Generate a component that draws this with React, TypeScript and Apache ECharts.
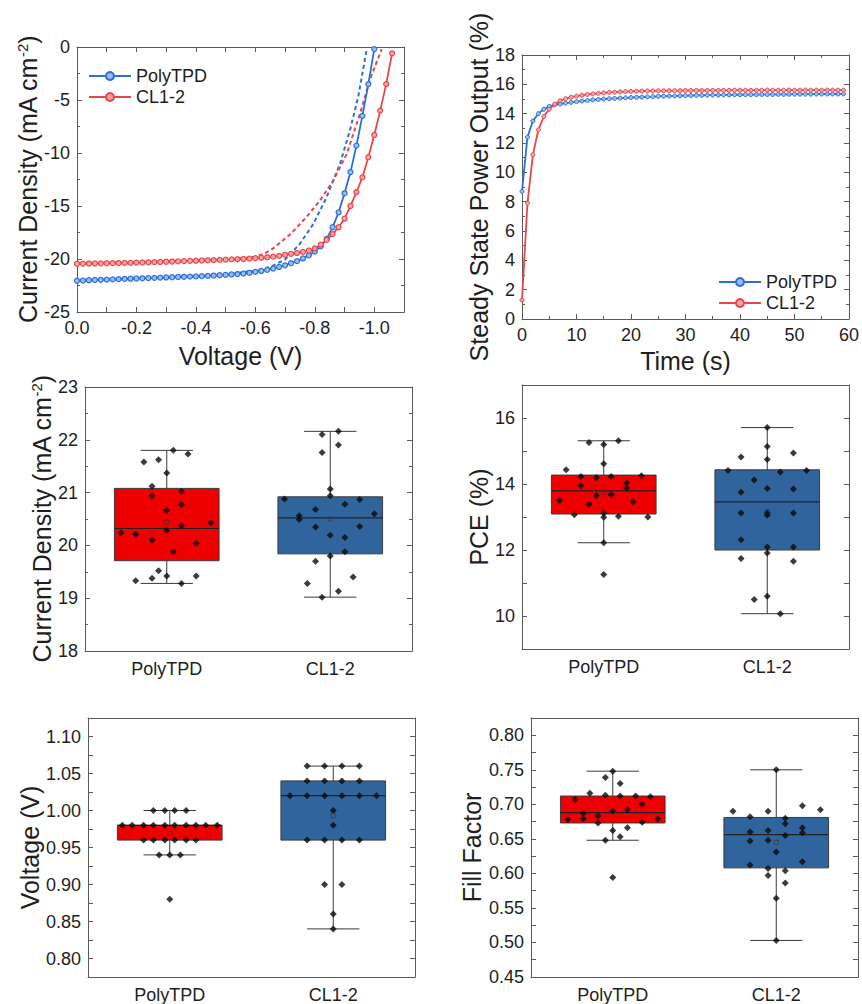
import React, { useEffect, useRef } from 'react';
import * as echarts from 'echarts';

// ---------------- Data ----------------
const groups = ['PolyTPD', 'CL1-2'];

// J-V curves (forward scan with markers)
const jvVoltage = [0, -0.02, -0.04, -0.06, -0.08, -0.1, -0.12, -0.14, -0.16, -0.18, -0.2, -0.22, -0.24, -0.26, -0.28, -0.3, -0.32, -0.34, -0.36, -0.38, -0.4, -0.42, -0.44, -0.46, -0.48, -0.5, -0.52, -0.54, -0.56, -0.58, -0.6, -0.62, -0.64, -0.66, -0.68, -0.7, -0.72, -0.74, -0.76, -0.78, -0.8, -0.82, -0.84, -0.86, -0.88, -0.9, -0.92, -0.94, -0.96, -0.98, -1.0, -1.02, -1.04, -1.06];
const jvPolyForward = [
  -22.05, -22.03, -22.0, -21.98, -21.96, -21.94, -21.92, -21.9, -21.88, -21.86,
  -21.84, -21.82, -21.8, -21.78, -21.76, -21.74, -21.72, -21.7, -21.68, -21.66,
  -21.64, -21.62, -21.59, -21.56, -21.53, -21.5, -21.46, -21.42, -21.37, -21.3,
  -21.22, -21.13, -21.02, -20.9, -20.75, -20.6, -20.4, -20.2, -19.95, -19.65,
  -19.3, -18.8, -18.1, -17.0, -15.6, -13.8, -11.8, -9.3, -6.5, -3.5,
  -0.2,
];
const jvCl12Forward = [
  -20.45, -20.44, -20.43, -20.42, -20.41, -20.4, -20.39, -20.38, -20.37, -20.36,
  -20.34, -20.33, -20.31, -20.3, -20.28, -20.26, -20.24, -20.22, -20.2, -20.18,
  -20.16, -20.14, -20.12, -20.1, -20.08, -20.06, -20.04, -20.02, -20.0, -19.97,
  -19.92, -19.88, -19.84, -19.78, -19.7, -19.6, -19.52, -19.43, -19.33, -19.2,
  -19.0, -18.65, -18.2, -17.65, -17.0, -16.2, -15.0, -13.7, -12.3, -10.4,
  -8.3, -6.0, -3.5, -0.6,
];
// J-V curves (reverse scan, dashed)
const jvPolyReverseV = [0, -0.1, -0.2, -0.3, -0.4, -0.5, -0.6, -0.65, -0.7, -0.75, -0.795, -0.84, -0.885, -0.918, -0.946, -0.974];
const jvPolyReverseJ = [-22.05, -21.94, -21.84, -21.74, -21.64, -21.48, -21.1, -20.75, -20.05, -18.55, -16.7, -14.15, -11.0, -7.86, -4.7, -0.3];
const jvCl12ReverseV = [0, -0.2, -0.4, -0.5, -0.56, -0.6, -0.63, -0.66, -0.72, -0.773, -0.817, -0.862, -0.907, -0.952, -0.985, -1.025];
const jvCl12ReverseJ = [-20.45, -20.32, -20.14, -20.02, -19.92, -19.78, -19.5, -19.0, -17.6, -16.0, -14.5, -12.6, -10.1, -6.3, -3.1, -0.2];

// Steady state power output
const spoTime = [0, 1, 2, 3, 4, 5, 6, 7, 8, 9, 10, 11, 12, 13, 14, 15, 16, 17, 18, 19, 20, 21, 22, 23, 24, 25, 26, 27, 28, 29, 30, 31, 32, 33, 34, 35, 36, 37, 38, 39, 40, 41, 42, 43, 44, 45, 46, 47, 48, 49, 50, 51, 52, 53, 54, 55, 56, 57, 58, 59];
const spoPoly = [
  8.7, 12.4, 13.5, 14.0, 14.3, 14.5, 14.6, 14.66, 14.72, 14.77,
  14.82, 14.86, 14.9, 14.94, 14.97, 15.0, 15.02, 15.04, 15.06, 15.08,
  15.1, 15.12, 15.13, 15.15, 15.16, 15.18, 15.19, 15.2, 15.21, 15.22,
  15.23, 15.24, 15.25, 15.25, 15.26, 15.27, 15.27, 15.28, 15.28, 15.29,
  15.29, 15.3, 15.3, 15.3, 15.31, 15.31, 15.31, 15.32, 15.32, 15.32,
  15.33, 15.33, 15.33, 15.33, 15.34, 15.34, 15.34, 15.34, 15.34, 15.35,
];
const spoCl12 = [
  1.3, 7.9, 11.2, 12.9, 13.8, 14.3, 14.65, 14.88, 15.02, 15.12,
  15.2, 15.26, 15.31, 15.35, 15.39, 15.42, 15.45, 15.47, 15.49, 15.51,
  15.52, 15.53, 15.54, 15.55, 15.55, 15.56, 15.56, 15.57, 15.57, 15.57,
  15.58, 15.58, 15.58, 15.58, 15.59, 15.59, 15.59, 15.59, 15.59, 15.6,
  15.6, 15.6, 15.59, 15.6, 15.6, 15.61, 15.6, 15.6, 15.6, 15.61,
  15.6, 15.6, 15.61, 15.6, 15.6, 15.6, 15.61, 15.6, 15.6, 15.6,
];

// Box statistics: [lower whisker, Q1, median, Q3, upper whisker]
const jscBox = [[19.28, 19.71, 20.32, 21.08, 21.8], [19.02, 19.84, 20.52, 20.92, 22.16]];
const pceBox = [[12.22, 13.09, 13.79, 14.27, 15.31], [10.07, 12.0, 13.46, 14.43, 15.71]];
const vocBox = [[0.94, 0.96, 0.98, 0.98, 1.0], [0.84, 0.96, 1.02, 1.04, 1.06]];
const ffBox = [[0.648, 0.673, 0.688, 0.712, 0.748], [0.503, 0.608, 0.656, 0.681, 0.75]];

const jscMean = [20.44, 20.5];
const pceMean = [13.75, 13.17];
const vocMean = [0.969, 0.993];
const ffMean = [0.69, 0.645];

// Individual devices: [jitter (category units), value]
const jscPoly = [[-0.28, 20.24], [-0.19, 20.21], [-0.19, 19.33], [-0.14, 21.58], [-0.09, 21.12], [-0.09, 20.94], [-0.09, 20.1], [-0.09, 19.38], [-0.05, 21.62], [-0.05, 19.52], [0, 21.37], [0, 20.66], [0, 20.28], [0, 19.42], [0.04, 21.8], [0.04, 19.88], [0.09, 21.02], [0.09, 20.77], [0.09, 20.37], [0.09, 19.28], [0.13, 21.73], [0.18, 20.04], [0.18, 19.42], [0.27, 20.43]];
const jscCl12 = [[-0.28, 20.88], [-0.19, 20.56], [-0.19, 20.49], [-0.14, 19.28], [-0.09, 19.7], [-0.09, 20.35], [-0.09, 20.68], [-0.05, 22.1], [-0.05, 21.76], [-0.05, 19.02], [0, 21.07], [0, 20.94], [0, 20.19], [0, 19.8], [0.05, 22.16], [0.05, 21.9], [0.05, 19.13], [0.09, 20.78], [0.09, 20.15], [0.09, 19.88], [0.14, 19.4], [0.18, 20.87], [0.18, 20.36], [0.27, 20.6]];
const pcePoly = [[-0.27, 13.5], [-0.23, 14.43], [-0.18, 13.07], [-0.14, 14.23], [-0.14, 13.95], [-0.09, 15.26], [-0.09, 13.39], [-0.045, 14.2], [-0.045, 13.65], [0, 15.2], [0, 14.61], [0, 13.12], [0, 12.99], [0, 12.22], [0, 11.26], [0.045, 14.23], [0.045, 13.68], [0.09, 15.31], [0.09, 13.02], [0.14, 14.03], [0.14, 13.88], [0.18, 13.46], [0.23, 14.25], [0.27, 13.0]];
const pceCl12 = [[-0.24, 14.41], [-0.16, 14.82], [-0.16, 13.75], [-0.16, 13.12], [-0.16, 12.31], [-0.16, 11.74], [-0.08, 14.12], [-0.08, 10.5], [0, 15.71], [0, 15.14], [0, 14.74], [0, 13.86], [0, 13.12], [0, 13.05], [0, 12.09], [0, 11.91], [0, 10.6], [0.08, 14.36], [0.08, 10.07], [0.16, 14.94], [0.16, 13.85], [0.16, 13.12], [0.16, 12.09], [0.16, 11.66], [0.24, 14.41]];
const vocPoly = [[-0.1, 1.0], [-0.03, 1.0], [0.03, 1.0], [0.1, 1.0], [-0.29, 0.98], [-0.23, 0.98], [-0.16, 0.98], [-0.1, 0.98], [-0.03, 0.98], [0.03, 0.98], [0.1, 0.98], [0.16, 0.98], [0.22, 0.98], [0.29, 0.98], [-0.16, 0.96], [-0.1, 0.96], [-0.03, 0.96], [0.03, 0.96], [0.1, 0.96], [0.16, 0.96], [-0.065, 0.94], [0, 0.94], [0.065, 0.94], [0, 0.88]];
const vocCl12 = [[-0.16, 1.06], [-0.053, 1.06], [0.053, 1.06], [0.16, 1.06], [-0.16, 1.04], [-0.053, 1.04], [0.053, 1.04], [0.16, 1.04], [-0.265, 1.02], [-0.16, 1.02], [-0.053, 1.02], [0.053, 1.02], [0.16, 1.02], [0.265, 1.02], [0, 1.0], [0, 0.98], [-0.16, 0.96], [-0.053, 0.96], [0.053, 0.96], [0.16, 0.96], [-0.053, 0.9], [0.053, 0.9], [0, 0.86], [0, 0.84]];
const ffPoly = [[-0.275, 0.678], [-0.23, 0.707], [-0.18, 0.687], [-0.18, 0.679], [-0.14, 0.716], [-0.09, 0.683], [-0.09, 0.673], [-0.045, 0.739], [-0.045, 0.713], [-0.045, 0.648], [0, 0.748], [0, 0.69], [0, 0.662], [0, 0.594], [0.045, 0.73], [0.045, 0.712], [0.045, 0.653], [0.09, 0.692], [0.09, 0.666], [0.14, 0.712], [0.18, 0.7], [0.18, 0.674], [0.23, 0.711], [0.275, 0.679]];
const ffCl12 = [[-0.265, 0.69], [-0.16, 0.682], [-0.16, 0.66], [-0.16, 0.647], [-0.16, 0.612], [-0.05, 0.69], [-0.05, 0.662], [-0.05, 0.648], [-0.05, 0.607], [-0.05, 0.597], [0, 0.75], [0, 0.631], [0, 0.564], [0, 0.503], [0.055, 0.68], [0.055, 0.672], [0.055, 0.655], [0.055, 0.604], [0.055, 0.586], [0.16, 0.698], [0.16, 0.666], [0.16, 0.659], [0.16, 0.617], [0.27, 0.692]];

// ---------------- Styling ----------------
const FONT = "'Liberation Sans', Arial, Helvetica, sans-serif";
const AXC = '#5a5a5a';
const TXT = '#1e1e1e';
const BLUE = '#2b6fd8';
const RED = '#e8464b';
const BLUE_FILL = '#9dbdf0';
const RED_FILL = '#f5a5a8';
const BOX_FILLS = ['#ee0000', '#30649c'];

const tickStyle = { inside: true, length: 5, lineStyle: { color: AXC, width: 1 } };
const axisLineStyle = { show: true, onZero: false, lineStyle: { color: AXC, width: 1 } };
const labelStyle = { color: TXT, fontSize: 18, fontFamily: FONT };
const nameStyle = {
  color: TXT,
  fontSize: 25,
  fontFamily: FONT,
  rich: { sup: { fontSize: 15, fontFamily: FONT, color: TXT, verticalAlign: 'top', lineHeight: 15 } },
};

const gridRects = [
  { left: 77, top: 47, width: 327, height: 265 },
  { left: 522, top: 55, width: 327, height: 264 },
  { left: 85, top: 387, width: 327, height: 264 },
  { left: 522, top: 385, width: 327, height: 264 },
  { left: 88, top: 718, width: 327, height: 263 },
  { left: 531, top: 718, width: 327, height: 263 },
];

function valAxis(gridIndex: number, position: string, cfg: any, main: boolean, name?: string, nameGap?: number) {
  const ax: any = {
    type: 'value',
    gridIndex,
    position,
    min: cfg.min,
    max: cfg.max,
    inverse: !!cfg.inverse,
    axisLine: axisLineStyle,
    axisTick: cfg.tickValues ? { ...tickStyle, customValues: cfg.tickValues } : { ...tickStyle },
    minorTick: cfg.minor
      ? { show: true, splitNumber: cfg.minor, length: 3, lineStyle: { color: AXC, width: 1 } }
      : { show: false },
    splitLine: { show: false },
    axisLabel: main
      ? {
          ...labelStyle,
          margin: 7,
          formatter: cfg.formatter,
          ...(cfg.labelValues ? { customValues: cfg.labelValues } : {}),
        }
      : { show: false },
  };
  if (cfg.interval !== undefined) ax.interval = cfg.interval;
  if (main && name) {
    ax.name = name;
    ax.nameLocation = 'middle';
    ax.nameGap = nameGap;
    ax.nameTextStyle = nameStyle;
  }
  return ax;
}

function catAxis(gridIndex: number, position: string, main: boolean) {
  return {
    type: 'category',
    gridIndex,
    position,
    data: groups,
    boundaryGap: true,
    axisLine: axisLineStyle,
    axisTick: { ...tickStyle, alignWithLabel: true },
    axisLabel: main ? { ...labelStyle, margin: 9 } : { show: false },
    splitLine: { show: false },
  };
}

function hiddenAxis(gridIndex: number) {
  return { type: 'value', gridIndex, show: false, min: -0.5, max: 1.5, axisLine: { onZero: false } };
}

const fmtStep = (step: number, digits: number) => (v: number) => {
  const r = Math.round(v * 1000);
  const s = Math.round(step * 1000);
  return r % s === 0 ? (r / 1000).toFixed(digits) : '';
};

function renderBox(params: any, api: any) {
  const idx = api.value(0);
  const lo = api.coord([idx, api.value(1)]);
  const q1 = api.coord([idx, api.value(2)]);
  const med = api.coord([idx, api.value(3)]);
  const q3 = api.coord([idx, api.value(4)]);
  const hi = api.coord([idx, api.value(5)]);
  const band = api.size([1, 0])[0];
  const bw = band * 0.64;
  const cw = band * 0.32;
  const x = lo[0];
  const st = { stroke: '#3a3a3a', lineWidth: 1 };
  return {
    type: 'group',
    children: [
      { type: 'line', shape: { x1: x, y1: hi[1], x2: x, y2: lo[1] }, style: st },
      { type: 'line', shape: { x1: x - cw / 2, y1: hi[1], x2: x + cw / 2, y2: hi[1] }, style: st },
      { type: 'line', shape: { x1: x - cw / 2, y1: lo[1], x2: x + cw / 2, y2: lo[1] }, style: st },
      {
        type: 'rect',
        shape: { x: x - bw / 2, y: q3[1], width: bw, height: q1[1] - q3[1] },
        style: { fill: BOX_FILLS[idx], stroke: '#3a3a3a', lineWidth: 1 },
      },
      { type: 'line', shape: { x1: x - bw / 2, y1: med[1], x2: x + bw / 2, y2: med[1] }, style: { stroke: '#222', lineWidth: 1.2 } },
    ],
  };
}

function zip(xs: number[], ys: number[]) {
  return ys.map((y, i) => [xs[i], y]);
}

function buildOption() {
  const xAxis: any[] = [];
  const yAxis: any[] = [];
  const series: any[] = [];

  // Panel 1: J-V
  const jvX = {
    min: -1.1,
    max: 0,
    inverse: true,
    labelValues: [0, -0.2, -0.4, -0.6, -0.8, -1.0],
    tickValues: [0, -0.1, -0.2, -0.3, -0.4, -0.5, -0.6, -0.7, -0.8, -0.9, -1.0, -1.1],
    formatter: (v: number) => (Math.abs(v) < 1e-9 ? '0.0' : v.toFixed(1)),
  };
  const jvY = { min: -25, max: 0, interval: 5, minor: 2 };
  xAxis.push(valAxis(0, 'bottom', jvX, true, 'Voltage (V)', 31));
  xAxis.push(valAxis(0, 'top', jvX, false));
  yAxis.push(valAxis(0, 'left', jvY, true, 'Current Density (mA cm{sup|-2})', 35));
  yAxis.push(valAxis(0, 'right', jvY, false));

  // Panel 2: steady state
  const spX = { min: 0, max: 60, interval: 10, minor: 2 };
  const spY = { min: 0, max: 18, interval: 2, minor: 2 };
  xAxis.push(valAxis(1, 'bottom', spX, true, 'Time (s)', 29));
  xAxis.push(valAxis(1, 'top', spX, false));
  yAxis.push(valAxis(1, 'left', spY, true, 'Steady State Power Output (%)', 30));
  yAxis.push(valAxis(1, 'right', spY, false));

  const lineCommon = { type: 'line', symbol: 'circle', showSymbol: true, animation: false };
  series.push({
    ...lineCommon, name: 'PolyTPD (reverse)', xAxisIndex: 0, yAxisIndex: 0,
    data: zip(jvPolyReverseV, jvPolyReverseJ), showSymbol: false, symbol: 'none',
    lineStyle: { color: BLUE, width: 2, type: [4, 3] }, z: 2,
  });
  series.push({
    ...lineCommon, name: 'CL1-2 (reverse)', xAxisIndex: 0, yAxisIndex: 0,
    data: zip(jvCl12ReverseV, jvCl12ReverseJ), showSymbol: false, symbol: 'none',
    lineStyle: { color: RED, width: 2, type: [4, 3] }, z: 2,
  });
  series.push({
    ...lineCommon, name: 'PolyTPD', xAxisIndex: 0, yAxisIndex: 0,
    data: zip(jvVoltage, jvPolyForward), symbolSize: 5,
    lineStyle: { color: BLUE, width: 1.8 }, itemStyle: { color: BLUE_FILL, borderColor: BLUE, borderWidth: 1.2 }, z: 3,
  });
  series.push({
    ...lineCommon, name: 'CL1-2', xAxisIndex: 0, yAxisIndex: 0,
    data: zip(jvVoltage, jvCl12Forward), symbolSize: 5,
    lineStyle: { color: RED, width: 1.8 }, itemStyle: { color: RED_FILL, borderColor: RED, borderWidth: 1.2 }, z: 3,
  });
  series.push({
    ...lineCommon, name: 'PolyTPD', xAxisIndex: 2, yAxisIndex: 2,
    data: zip(spoTime, spoPoly), symbolSize: 4,
    lineStyle: { color: BLUE, width: 1.8 }, itemStyle: { color: BLUE_FILL, borderColor: BLUE, borderWidth: 1 }, z: 3,
  });
  series.push({
    ...lineCommon, name: 'CL1-2', xAxisIndex: 2, yAxisIndex: 2,
    data: zip(spoTime, spoCl12), symbolSize: 4,
    lineStyle: { color: RED, width: 1.8 }, itemStyle: { color: RED_FILL, borderColor: RED, borderWidth: 1 }, z: 3,
  });

  // Box panels
  const boxPanels = [
    { grid: 2, box: jscBox, mean: jscMean, pts: [jscPoly, jscCl12], y: { min: 18, max: 23, interval: 1, minor: 2 }, name: 'Current Density (mA cm{sup|-2})', gap: 29 },
    { grid: 3, box: pceBox, mean: pceMean, pts: [pcePoly, pceCl12], y: { min: 9, max: 17, interval: 1, formatter: (v: number) => (Math.round(v) % 2 === 0 ? String(Math.round(v)) : '') }, name: 'PCE (%)', gap: 31 },
    { grid: 4, box: vocBox, mean: vocMean, pts: [vocPoly, vocCl12], y: { min: 0.775, max: 1.125, interval: 0.025, formatter: fmtStep(0.05, 2) }, name: 'Voltage (V)', gap: 44 },
    { grid: 5, box: ffBox, mean: ffMean, pts: [ffPoly, ffCl12], y: { min: 0.45, max: 0.825, interval: 0.025, formatter: fmtStep(0.05, 2) }, name: 'Fill Factor', gap: 47 },
  ];

  boxPanels.forEach((p) => {
    const catIdx = xAxis.length;
    xAxis.push(catAxis(p.grid, 'bottom', true));
    xAxis.push(catAxis(p.grid, 'top', false));
    const hidIdx = xAxis.length;
    xAxis.push(hiddenAxis(p.grid));
    const yIdx = yAxis.length;
    yAxis.push(valAxis(p.grid, 'left', p.y, true, p.name, p.gap));
    yAxis.push(valAxis(p.grid, 'right', p.y, false));

    series.push({
      type: 'custom',
      name: 'box ' + p.name,
      xAxisIndex: catIdx,
      yAxisIndex: yIdx,
      data: p.box.map((s, i) => [i, ...s]),
      encode: { x: 0, y: [1, 2, 3, 4, 5] },
      renderItem: renderBox,
      z: 2,
    });
    series.push({
      type: 'scatter',
      name: 'devices ' + p.name,
      xAxisIndex: hidIdx,
      yAxisIndex: yIdx,
      data: [
        ...p.pts[0].map(([o, v]) => [0 + o, v]),
        ...p.pts[1].map(([o, v]) => [1 + o, v]),
      ],
      symbol: 'diamond',
      symbolSize: 7,
      itemStyle: { color: '#0a0a0a' },
      z: 5,
    });
    series.push({
      type: 'scatter',
      name: 'mean ' + p.name,
      xAxisIndex: hidIdx,
      yAxisIndex: yIdx,
      data: p.mean.map((m, i) => [i, m]),
      symbol: 'rect',
      symbolSize: 4,
      itemStyle: { color: 'rgba(0,0,0,0)', borderColor: '#333', borderWidth: 0.8 },
      z: 6,
    });
  });

  const legendCommon = {
    data: ['PolyTPD', 'CL1-2'],
    orient: 'vertical',
    itemWidth: 42,
    itemHeight: 10,
    itemGap: 3,
    selectedMode: false,
    textStyle: { fontSize: 18, color: TXT, fontFamily: FONT },
  };

  return {
    animation: false,
    backgroundColor: '#ffffff',
    textStyle: { fontFamily: FONT },
    grid: gridRects.map((g) => ({ ...g, containLabel: false })),
    legend: [
      { ...legendCommon, left: 83, top: 62 },
      { ...legendCommon, left: 713, top: 268 },
    ],
    xAxis,
    yAxis,
    series,
  };
}

export default function App() {
  const ref = useRef<HTMLDivElement>(null);
  useEffect(() => {
    document.body.style.margin = '0';
    if (!ref.current) return;
    const chart = echarts.init(ref.current, undefined, { renderer: 'svg' });
    chart.setOption(buildOption() as any);
    return () => chart.dispose();
  }, []);
  return <div ref={ref} style={{ width: 862, height: 1004 }} />;
}
